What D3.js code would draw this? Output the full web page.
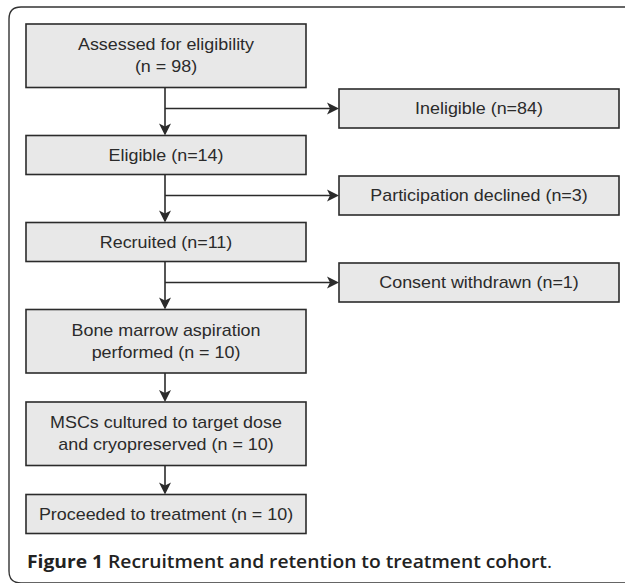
<!DOCTYPE html>
<html>
<head>
<meta charset="utf-8">
<script src="https://cdn.jsdelivr.net/npm/d3@7"></script>
<style>
	html, body { margin: 0; padding: 0; background: #fff; }
	svg { display: block; }
	.box { fill: #e8e8e8; stroke: #2b2b2b; stroke-width: 1.6; }
	.box-label { font-family: 'Liberation Sans', Arial, sans-serif; font-size: 16px; fill: #2b2b2b; }
	.link { stroke: #2b2b2b; stroke-width: 1.6; fill: none; }
	.head { fill: #2b2b2b; }
	.frame { fill: none; stroke: #333; stroke-width: 1.4; }
	.caption { font-family: 'Open Sans', sans-serif; font-size: 18px; fill: #222; }
</style>
</head>
<body>
<svg id="flow-chart" width="625" height="583"></svg>
<script>
// flow steps down the main column
var mainSteps = [
	['Assessed for eligibility', '(n = 98)'],
	['Eligible (n=14)'],
	['Recruited (n=11)'],
	['Bone marrow aspiration', 'performed (n = 10)'],
	['MSCs cultured to target dose', 'and cryopreserved (n = 10)'],
	['Proceeded to treatment (n = 10)']
];

// people dropped out after step i (index = step it branches from)
var exclusions = [
	'Ineligible (n=84)',
	'Participation declined (n=3)',
	'Consent withdrawn (n=1)'
];

var captionBold = 'Figure 1';
var captionText = 'Recruitment and retention to treatment cohort';

(function() {
	'use strict';

	var svg = d3.select('#flow-chart'),
		mainX = 26,
		mainW = 280,
		sideX = 339,
		sideW = 280,
		sideH = 39,
		lineH = 22,
		stretch = 1.12,
		cx = mainX + mainW / 2;

	// work out the box tops from the number of lines and the kind of gap
	var boxes = [],
		top = 24;
	mainSteps.forEach(function(lines, i) {
		var h = lines.length > 1 ? 63.5 : 39;
		boxes.push({ lines: lines, y: top, h: h });
		top += h + (i < exclusions.length ? 48 : 29);
	});

	// arrow head pointing down / right, tip at 0,0
	var headDown = 'M0,0 L-6,-12 L0,-9 L6,-12 Z',
		headRight = 'M0,0 L-12,-6 L-9,0 L-12,6 Z';

	var drawLabel = function(g, lines, x, yMid) {
		var first = yMid + 5.5 - (lines.length - 1) * lineH / 2;
		lines.forEach(function(t, k) {
			g.append('text')
				.attr('class', 'box-label')
				.attr('text-anchor', 'middle')
				.attr('transform', 'translate(' + x + ',' + (first + k * lineH) + ') scale(' + stretch + ',1)')
				.text(t);
		});
	};

	// frame (right side cut off as in the page)
	svg.append('path')
		.attr('class', 'frame')
		.attr('d', 'M630,7 L21,7 Q9,7 9,19 L9,571 Q9,583 21,583 L630,583');

	// connectors between main boxes
	var links = svg.append('g');
	boxes.forEach(function(b, i) {
		if (i === boxes.length - 1) return;
		var next = boxes[i + 1];
		links.append('line')
			.attr('class', 'link')
			.attr('x1', cx - 1).attr('x2', cx - 1)
			.attr('y1', b.y + b.h).attr('y2', next.y - 4);
		links.append('path')
			.attr('class', 'head')
			.attr('d', headDown)
			.attr('transform', 'translate(' + (cx - 1) + ',' + next.y + ')');
	});

	// exclusion branches
	exclusions.forEach(function(label, i) {
		var b = boxes[i],
			gapMid = (b.y + b.h + boxes[i + 1].y) / 2 - 3;
		links.append('line')
			.attr('class', 'link')
			.attr('x1', cx - 1).attr('x2', sideX - 4)
			.attr('y1', gapMid).attr('y2', gapMid);
		links.append('path')
			.attr('class', 'head')
			.attr('d', headRight)
			.attr('transform', 'translate(' + sideX + ',' + gapMid + ')');

		var g = svg.append('g');
		g.append('rect')
			.attr('class', 'box')
			.attr('x', sideX).attr('y', gapMid - sideH / 2)
			.attr('width', sideW).attr('height', sideH);
		drawLabel(g, [label], sideX + sideW / 2, gapMid);
	});

	// main boxes
	boxes.forEach(function(b) {
		var g = svg.append('g');
		g.append('rect')
			.attr('class', 'box')
			.attr('x', mainX).attr('y', b.y)
			.attr('width', mainW).attr('height', b.h);
		drawLabel(g, b.lines, cx, b.y + b.h / 2);
	});

	// caption, stretched to the width it has in the page
	var cap = svg.append('text')
		.attr('class', 'caption')
		.attr('x', 27)
		.attr('y', 568)
		.attr('textLength', 525)
		.attr('lengthAdjust', 'spacingAndGlyphs');
	cap.append('tspan').attr('font-weight', 700).text(captionBold + ' ');
	cap.append('tspan').attr('font-weight', 600).text(captionText);
	cap.append('tspan').attr('font-weight', 400).text('.');
})();
</script>
</body>
</html>
